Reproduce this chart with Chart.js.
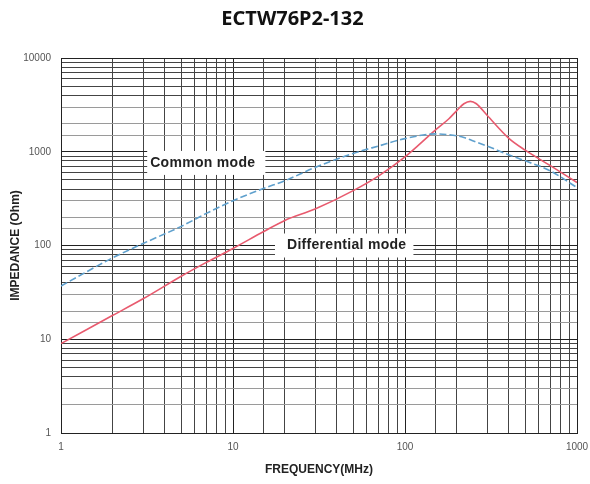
<!DOCTYPE html>
<html>
<head>
<meta charset="utf-8">
<script src="https://cdn.jsdelivr.net/npm/chart.js@4.4.1/dist/chart.umd.min.js"></script>
<style>
  html, body { margin: 0; padding: 0; background: #fff; }
  #wrap { width: 590px; height: 484px; }
</style>
</head>
<body>
<div id="wrap"><canvas id="myChart"></canvas></div>
<script>
// frequency in MHz, impedance in Ohm
const freq = [1, 2, 3, 5, 7, 10, 15, 20, 30, 50, 70, 100, 150, 180, 200, 220, 240, 260, 300, 400, 500, 700, 1000];
const commonMode = [37, 74, 105, 160, 220, 300, 405, 490, 680, 960, 1150, 1380, 1550, 1520, 1480, 1420, 1340, 1270, 1150, 930, 800, 625, 415];
const differentialMode = [9, 18, 27, 47, 66, 93, 140, 185, 245, 385, 550, 880, 1700, 2250, 2750, 3250, 3450, 3250, 2450, 1400, 1040, 710, 470];

const xTickLabels = [1, 10, 100, 1000];
const yTickLabels = [1, 10, 100, 1000, 10000];

const toPoints = (xs, ys) => xs.map((x, i) => ({ x: x, y: ys[i] }));

function isDecade(v) {
  const l = Math.log10(v);
  return Math.abs(l - Math.round(l)) < 1e-9;
}

// in-plot text labels with white boxes behind them
const modeLabels = {
  id: 'modeLabels',
  beforeDatasetsDraw(chart, args, opts) {
    const c = chart.ctx;
    const xs = chart.scales.x, ys = chart.scales.y;
    c.save();
    c.font = 'bold 14px "Liberation Sans", Arial, sans-serif';
    c.letterSpacing = '0.3px';
    c.textBaseline = 'middle';
    c.textAlign = 'left';
    opts.items.forEach(it => {
      const px = xs.getPixelForValue(it.x);
      const py = ys.getPixelForValue(it.y);
      const w = c.measureText(it.text).width;
      c.fillStyle = '#fff';
      c.fillRect(px - it.padL, py - 12, w + it.padL + it.padR, 24);
      c.fillStyle = '#222';
      c.fillText(it.text, px, py);
    });
    c.restore();
  }
};

const ctx = document.getElementById('myChart').getContext('2d');
const chart = new Chart(ctx, {
  type: 'line',
  data: {
    datasets: [{
      label: 'Common mode',
      data: toPoints(freq, commonMode),
      borderColor: 'rgb(95,160,205)',
      borderWidth: 1.6,
      borderDash: [7, 3],
      pointRadius: 0,
      cubicInterpolationMode: 'monotone',
      fill: false
    }, {
      label: 'Differential mode',
      data: toPoints(freq, differentialMode),
      borderColor: 'rgb(232,90,110)',
      borderWidth: 1.6,
      pointRadius: 0,
      cubicInterpolationMode: 'monotone',
      fill: false
    }]
  },
  options: {
    responsive: true,
    maintainAspectRatio: false,
    animation: false,
    layout: { padding: { left: 8, right: 13, top: 0, bottom: 0 } },
    plugins: {
      legend: { display: false },
      tooltip: { enabled: false },
      title: {
        display: true,
        text: 'ECTW76P2-132',
        color: '#111',
        font: { family: '"Noto Sans", "Open Sans", sans-serif', size: 20, weight: 'bold' },
        padding: { top: 7, bottom: 27 }
      },
      modeLabels: {
        items: [
          { text: 'Common mode', x: 3.3, y: 760, padL: 3, padR: 10 },
          { text: 'Differential mode', x: 20.6, y: 100, padL: 12, padR: 7 }
        ]
      }
    },
    scales: {
      x: {
        type: 'logarithmic',
        min: 1,
        max: 1000,
        title: {
          display: true,
          text: 'FREQUENCY(MHz)',
          color: '#222',
          font: { family: '"Liberation Sans", Arial, sans-serif', size: 12, weight: 'bold' },
          padding: { top: 6, bottom: 7 }
        },
        ticks: {
          autoSkip: false,
          maxRotation: 0,
          padding: 8,
          color: '#555',
          font: { family: '"Liberation Sans", Arial, sans-serif', size: 10 },
          callback: v => xTickLabels.includes(v) ? String(v) : ''
        },
        grid: {
          color: c => c.tick && isDecade(c.tick.value) ? '#222' : '#444',
          lineWidth: 1,
          drawTicks: false
        },
        border: { color: '#222' },
        afterFit: s => { s.height = 51; s.paddingRight = 0; s.paddingLeft = 0; }
      },
      y: {
        type: 'logarithmic',
        min: 1,
        max: 10000,
        title: {
          display: true,
          text: 'IMPEDANCE (Ohm)',
          color: '#222',
          font: { family: '"Liberation Sans", Arial, sans-serif', size: 12, weight: 'bold' },
          padding: { top: 0, bottom: 0 }
        },
        ticks: {
          autoSkip: false,
          color: '#555',
          padding: 10,
          font: { family: '"Liberation Sans", Arial, sans-serif', size: 10 },
          callback: v => yTickLabels.includes(v) ? String(v) : ''
        },
        grid: {
          color: c => {
            if (!c.tick) return '#444';
            const v = c.tick.value;
            if (isDecade(v)) return '#222';
            const m = Math.round(v / Math.pow(10, Math.floor(Math.log10(v) + 1e-9)));
            return (m === 2 || m === 3) ? '#9a9a9a' : '#444';
          },
          lineWidth: 1,
          drawTicks: false
        },
        border: { color: '#222' },
        afterFit: s => { s.width = 53; }
      }
    }
  },
  plugins: [modeLabels]
});
</script>
</body>
</html>
